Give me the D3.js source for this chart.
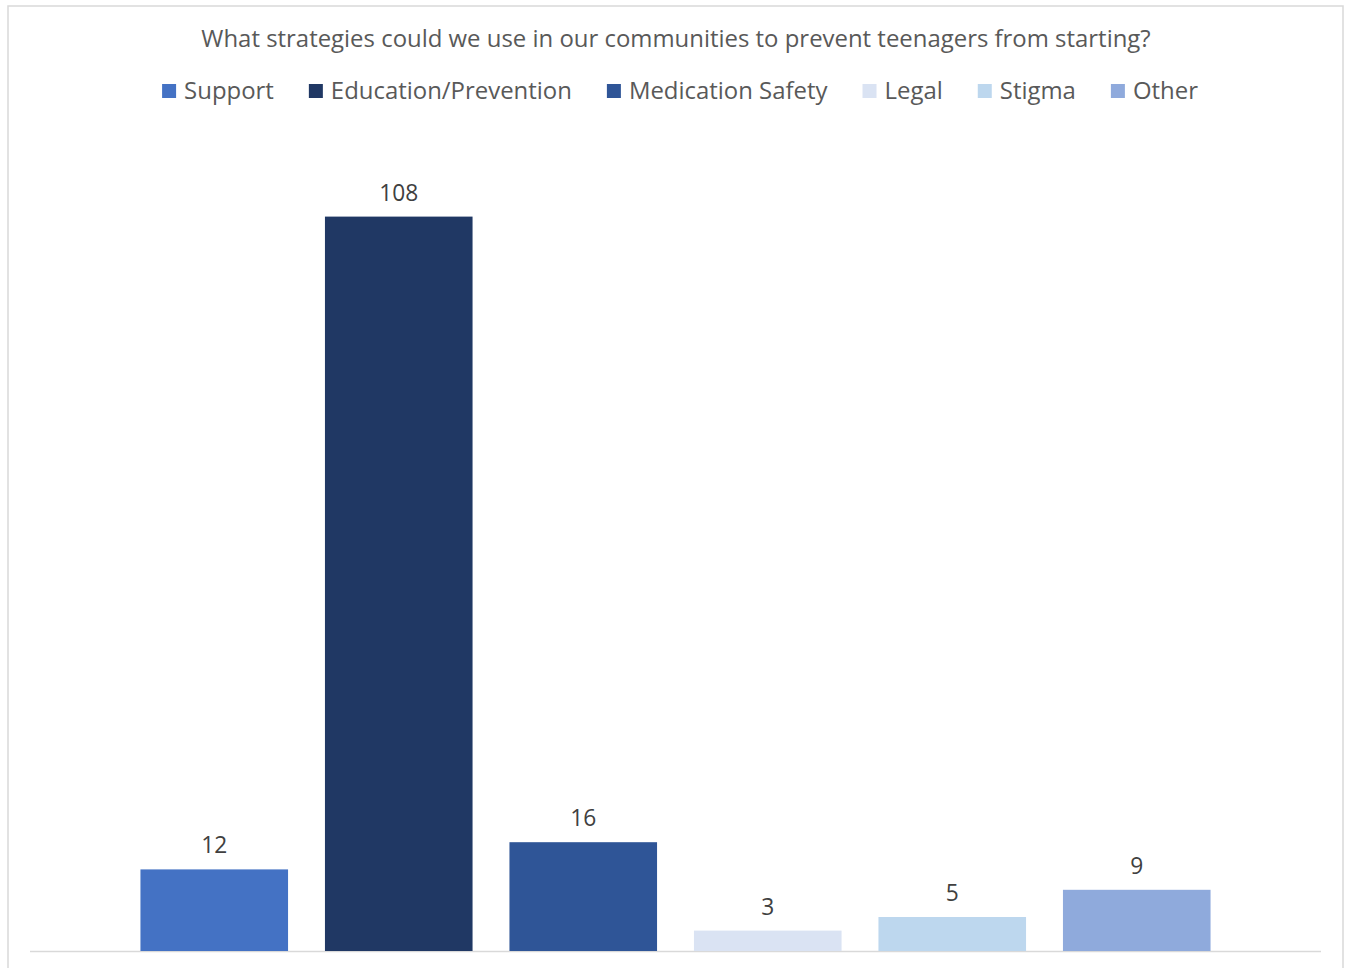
<!DOCTYPE html>
<html><head><meta charset="utf-8">
<script src="https://cdn.jsdelivr.net/npm/d3@7"></script>
<style>
html,body{margin:0;padding:0;background:#fff;}
svg{display:block;}
text{font-family:"Open Sans", "Noto Sans", sans-serif;}
</style></head>
<body>
<svg id="chart" width="1347" height="968"></svg>
<script>
const title = "What strategies could we use in our communities to prevent teenagers from starting?";
const categories = ["Support", "Education/Prevention", "Medication Safety", "Legal", "Stigma", "Other"];
const values = [12, 108, 16, 3, 5, 9];
const colors = ["#4472C4", "#203864", "#2F5597", "#DAE3F3", "#BDD7EE", "#8FAADC"];

const svg = d3.select("#chart");

// chart border
svg.append("rect").attr("x", 8).attr("y", 6).attr("width", 1335).attr("height", 975)
  .attr("fill", "#fff").attr("stroke", "#d9d9d9").attr("stroke-width", 1.5);

// title (fit to reference width)
const tt = svg.append("text").attr("x", 676).attr("y", 47).attr("text-anchor", "middle")
  .attr("fill", "#595959").style("font-size", "22px").text(title);
const tw = tt.node().getComputedTextLength();
const fs = 22 * 950 / tw;
tt.style("font-size", fs + "px");

// scales
const x = d3.scaleBand().domain(categories).range([122, 1229]).paddingInner(0.2).paddingOuter(0.1);
const y = d3.scaleLinear().domain([0, 120]).range([951, 135]);

// baseline axis
const axis = d3.axisBottom(x).tickSize(0).tickFormat("");
const ag = svg.append("g").attr("transform", "translate(0,951.5)").call(axis);
ag.select(".domain").attr("d", "M30,0H1321").attr("stroke", "#d9d9d9").attr("stroke-width", 1.5);

// bars
svg.append("g").selectAll("rect").data(categories).join("rect")
  .attr("x", d => x(d)).attr("width", x.bandwidth())
  .attr("y", (d, i) => y(values[i])).attr("height", (d, i) => y(0) - y(values[i]))
  .attr("fill", (d, i) => colors[i]);

// labels
svg.append("g").selectAll("text").data(categories).join("text")
  .attr("x", d => x(d) + x.bandwidth() / 2)
  .attr("y", (d, i) => y(values[i]) - 16)
  .attr("text-anchor", "middle").attr("fill", "#404040").style("font-size", (fs * 0.95) + "px")
  .text((d, i) => values[i]);

// legend (flow layout, centered)
const lg = svg.append("g");
const items = lg.selectAll("g").data(categories).join("g");
items.append("rect").attr("width", 14).attr("height", 14).attr("y", 84).attr("fill", (d, i) => colors[i]);
items.append("text").attr("x", 22).attr("y", 99).attr("fill", "#595959").style("font-size", fs + "px").text(d => d);
const widths = [];
items.each(function() { widths.push(22 + d3.select(this).select("text").node().getComputedTextLength()); });
const gap = 35;
const total = d3.sum(widths) + gap * (widths.length - 1);
let start = 680 - total / 2;
items.attr("transform", (d, i) => { const t = `translate(${start},0)`; start += widths[i] + gap; return t; });
</script>
</body></html>
